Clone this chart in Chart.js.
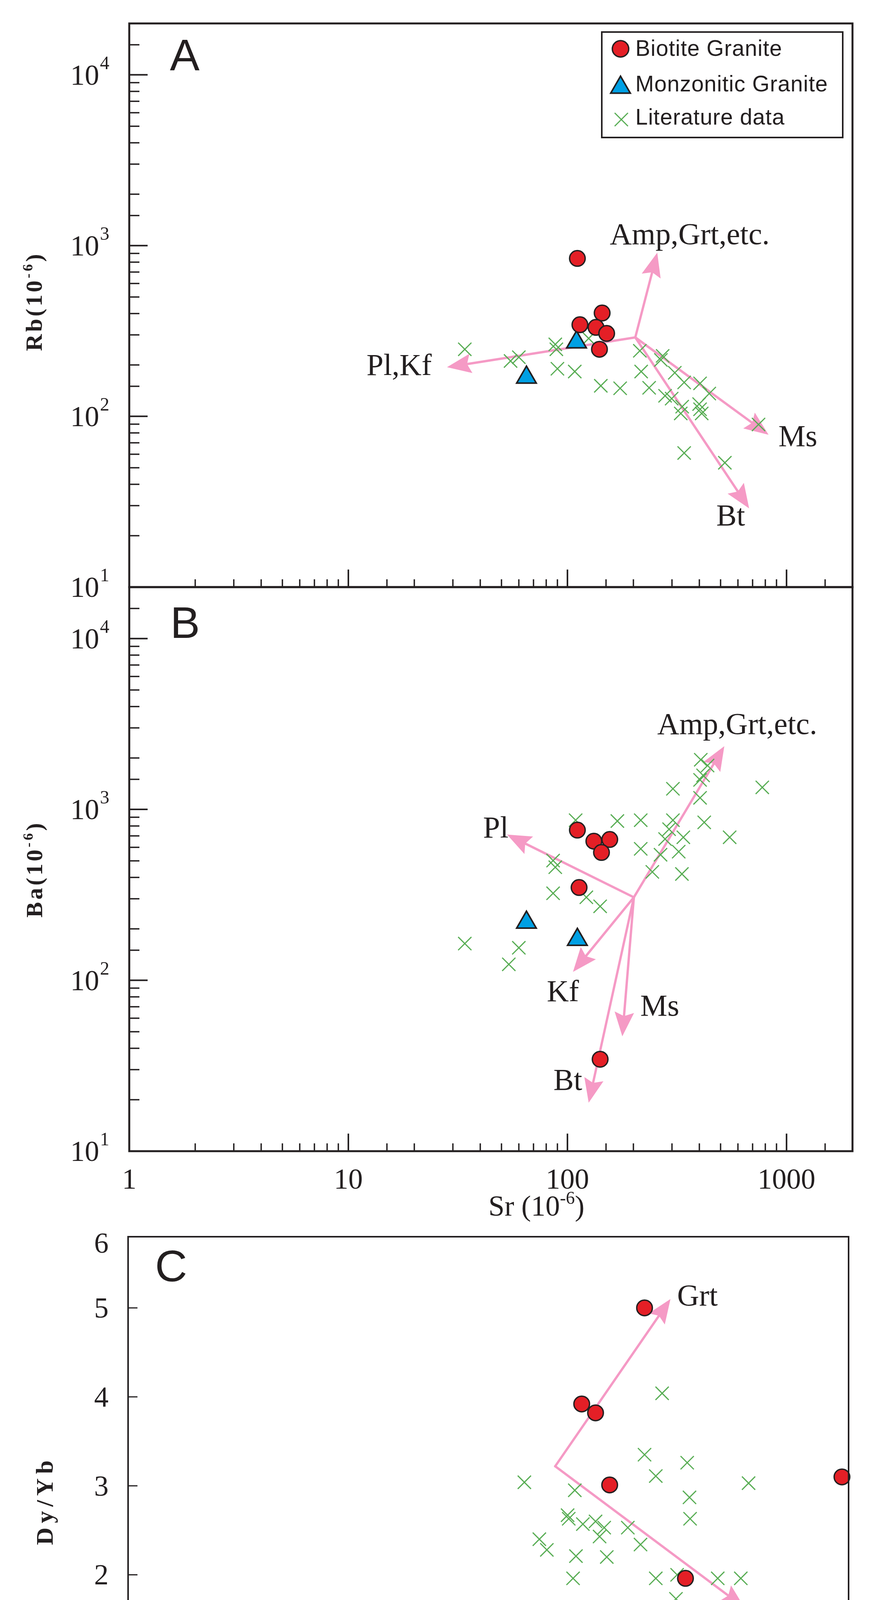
<!DOCTYPE html>
<html>
<head>
<meta charset="UTF-8">
<title>Sr-Rb / Sr-Ba / SiO2-Dy/Yb</title>
<style>
body{margin:0;background:#fff;width:2256px;height:4696px;position:relative;overflow:hidden}
canvas{position:absolute;left:0}
</style>
</head>
<body>
<canvas id="chartA" width="2256" height="1580" style="top:0px"></canvas>
<canvas id="chartB" width="2256" height="1760" style="top:1460px"></canvas>
<canvas id="chartC" width="2256" height="1616" style="top:3080px"></canvas>
<script src="https://cdn.jsdelivr.net/npm/chart.js@4.4.0/dist/chart.umd.min.js"></script>
<script>
// tick labels
const srTicks = [1, 10, 100, 1000];
const powTicks = [10, 100, 1000, 10000];
const powSup = ['1', '2', '3', '4'];
const siTicks = [55, 60, 65, 70, 75, 80];
const dyTicks = [0, 1, 2, 3, 4, 5, 6];

// A : Sr - Rb
const srBioA = [111, 144, 114, 135, 151, 140];
const rbBioA = [841, 403, 344, 332, 306, 247];
const srMonA = [110, 65];
const rbMonA = [272, 169];
const srLitA = [34, 55, 60, 88, 89, 90, 108, 125, 142, 174, 214, 217, 236, 272, 267, 309, 341, 279, 299, 334, 329, 403, 399, 403, 410, 444, 341, 523, 745];
const rbLitA = [247, 211, 222, 264, 247, 190, 183, 286, 151, 146, 242, 183, 147, 226, 214, 180, 158, 132, 127, 114, 104, 156, 118, 110, 104, 136, 61, 53.5, 89.6];
const vecFromA = [204, 290];
const vecToSrA = [28.2, 257, 828, 675];
const vecToRbA = [194, 910, 78, 28.9];

// B : Sr - Ba
const srBioB = [111, 132, 156, 143, 113, 141];
const baBioB = [757, 652, 667, 560, 349, 34.5];
const srMonB = [65, 111];
const baMonB = [218, 173];
const srLitB = [34, 60, 54, 86, 88, 86, 109, 122, 141, 169, 216, 216, 244, 266, 279, 291, 303, 303, 322, 338, 333, 403, 403, 416, 406, 436, 421, 550, 775];
const baLitB = [164, 155, 124, 502, 459, 323, 865, 306, 271, 855, 865, 588, 431, 543, 671, 766, 865, 1321, 566, 687, 419, 1169, 1489, 1582, 1953, 1807, 840, 687, 1346];
const vecFromB = [201, 306];
const vecToSrB = [53, 520, 106, 178, 125];
const vecToBaB = [713, 2345, 112, 47, 19.2];

// C : SiO2 - Dy/Yb
const siBioC = [72.92, 70.74, 71.22, 71.71, 74.34, 79.77];
const dyBioC = [5.0, 3.92, 3.82, 3.01, 1.96, 3.10];
const siMonC = [60.17, 65.34];
const dyMonC = [1.44, 1.56];
const siLitC = [68.75, 70.50, 70.25, 70.29, 70.78, 71.22, 71.52, 71.36, 72.34, 69.27, 69.53, 70.54, 71.61, 72.78, 70.44, 72.92, 73.31, 73.53, 74.40, 74.48, 74.50, 73.31, 74.05, 74.01, 75.46, 76.26, 76.53, 75.81, 68.30, 73.37, 75.42];
const dyLitC = [3.04, 2.95, 2.67, 2.63, 2.57, 2.60, 2.53, 2.43, 2.53, 2.40, 2.28, 2.21, 2.20, 2.34, 1.96, 3.35, 3.11, 4.04, 3.26, 2.87, 2.63, 1.96, 2.00, 1.73, 1.96, 1.96, 3.03, 1.61, 1.62, 1.26, 1.02];
const vecFromC = [69.82, 3.22];
const vecToSiC = [73.82, 76.39];
const vecToDyC = [5.10, 1.63];

const INK = '#231f20';
const PINK = '#f59ac5';
const RED = '#e41f26';
const BLUE = '#00a0e4';
const GREEN = '#58ad54';
const SERIF = '"Liberation Serif", "Times New Roman", serif';
const SANS = '"Liberation Sans", Arial, sans-serif';

const bioStyle = {pointStyle: 'circle', pointRadius: 20, pointHoverRadius: 20, pointBackgroundColor: RED, pointBorderColor: INK, pointBorderWidth: 3.5};
const monStyle = {pointStyle: 'triangle', pointRadius: 29, pointHoverRadius: 29, pointBackgroundColor: BLUE, pointBorderColor: INK, pointBorderWidth: 4};
const litStyle = {pointStyle: 'crossRot', pointRadius: 24, pointHoverRadius: 24, pointBackgroundColor: GREEN, pointBorderColor: GREEN, pointBorderWidth: 3};

function ds(label, xs, ys, style) {
  return Object.assign({label: label, data: xs.map((x, i) => ({x: x, y: ys[i]})), clip: false, showLine: false}, style);
}

// text made of runs (for superscripts / subscripts)
function runs(ctx, parts, x, y, align, weight, spacing) {
  ctx.letterSpacing = (spacing || 0) + 'px';
  const w = parts.map(p => { ctx.font = weight + ' ' + p.s + 'px ' + SERIF; return ctx.measureText(p.t).width; });
  const total = w.reduce((a, b) => a + b, 0);
  let cx = align === 'right' ? x - total : align === 'center' ? x - total / 2 : x;
  ctx.textAlign = 'left';
  ctx.textBaseline = 'alphabetic';
  parts.forEach((p, i) => {
    ctx.font = weight + ' ' + p.s + 'px ' + SERIF;
    ctx.fillText(p.t, cx, y + (p.dy || 0));
    cx += w[i];
  });
  ctx.letterSpacing = '0px';
}

function arrow(ctx, x0, y0, x1, y1) {
  const L = 62, W = 25, N = 10;
  const a = Math.atan2(y1 - y0, x1 - x0);
  const ux = Math.cos(a), uy = Math.sin(a);
  ctx.strokeStyle = PINK;
  ctx.fillStyle = PINK;
  ctx.lineWidth = 6;
  ctx.lineCap = 'round';
  ctx.beginPath();
  ctx.moveTo(x0, y0);
  ctx.lineTo(x1 - ux * (L - N), y1 - uy * (L - N));
  ctx.stroke();
  ctx.beginPath();
  ctx.moveTo(x1, y1);
  ctx.lineTo(x1 - ux * L - uy * W, y1 - uy * L + ux * W);
  ctx.lineTo(x1 - ux * (L - N), y1 - uy * (L - N));
  ctx.lineTo(x1 - ux * L + uy * W, y1 - uy * L - ux * W);
  ctx.closePath();
  ctx.fill();
}

function isPow10(v) {
  const l = Math.log10(v);
  return Math.abs(l - Math.round(l)) < 1e-6;
}

function logTicks(ctx, scale, a, horizontal) {
  scale.ticks.map(t => t.value).filter(v => v > scale.min && v < scale.max).forEach(v => {
    const major = isPow10(v);
    const p = scale.getPixelForValue(v);
    ctx.lineWidth = major ? 4 : 3.5;
    ctx.beginPath();
    if (horizontal) {
      const len = major ? 45 : 20;
      ctx.moveTo(p, a.bottom); ctx.lineTo(p, a.bottom - len);
    } else {
      const len = major ? 47 : 26;
      ctx.moveTo(a.left, p); ctx.lineTo(a.left + len, p);
    }
    ctx.stroke();
  });
}

function legend(ctx, a) {
  const bx = a.right - 642, by = a.top + 22, bw = 617, bh = 270;
  ctx.strokeStyle = INK;
  ctx.lineWidth = 4;
  ctx.strokeRect(bx, by, bw, bh);
  // circle
  ctx.beginPath();
  ctx.arc(bx + 48, by + 43, 21, 0, Math.PI * 2);
  ctx.fillStyle = RED; ctx.fill();
  ctx.lineWidth = 3.5; ctx.strokeStyle = INK; ctx.stroke();
  // triangle
  const tx = bx + 48, ty = by + 142, r = 29;
  ctx.beginPath();
  ctx.moveTo(tx, ty - r);
  ctx.lineTo(tx + r * Math.sin(Math.PI * 2 / 3), ty - r * Math.cos(Math.PI * 2 / 3));
  ctx.lineTo(tx + r * Math.sin(Math.PI * 4 / 3), ty - r * Math.cos(Math.PI * 4 / 3));
  ctx.closePath();
  ctx.fillStyle = BLUE; ctx.fill();
  ctx.lineWidth = 4; ctx.stroke();
  // cross
  const cx = bx + 50, cy = by + 224, c = 17;
  ctx.strokeStyle = GREEN; ctx.lineWidth = 3;
  ctx.beginPath();
  ctx.moveTo(cx - c, cy - c); ctx.lineTo(cx + c, cy + c);
  ctx.moveTo(cx + c, cy - c); ctx.lineTo(cx - c, cy + c);
  ctx.stroke();
  ctx.fillStyle = INK;
  ctx.font = '57px ' + SANS;
  ctx.textAlign = 'left';
  ctx.textBaseline = 'middle';
  ctx.letterSpacing = '1px';
  ctx.fillText('Biotite Granite', bx + 86, by + 45);
  ctx.fillText('Monzonitic Granite', bx + 86, by + 136);
  ctx.fillText('Literature data', bx + 86, by + 221);
  ctx.letterSpacing = '0px';
}

function panelPlugin(p) {
  return {
    id: 'panel' + p.letter,
    beforeDatasetsDraw(chart) {
      const ctx = chart.ctx, xs = chart.scales.x, ys = chart.scales.y;
      const x0 = xs.getPixelForValue(p.from[0]), y0 = ys.getPixelForValue(p.from[1]);
      ctx.save();
      p.toX.forEach((v, i) => arrow(ctx, x0, y0, xs.getPixelForValue(v), ys.getPixelForValue(p.toY[i])));
      ctx.restore();
    },
    afterDraw(chart) {
      const ctx = chart.ctx, a = chart.chartArea, xs = chart.scales.x, ys = chart.scales.y;
      ctx.save();
      ctx.strokeStyle = INK;
      ctx.fillStyle = INK;
      ctx.lineCap = 'butt';
      // frame
      ctx.lineWidth = p.frameW;
      ctx.strokeRect(a.left, a.top, a.right - a.left, a.bottom - a.top);
      // ticks
      if (p.log) {
        logTicks(ctx, xs, a, true);
        logTicks(ctx, ys, a, false);
      } else {
        ctx.lineWidth = 3;
        dyTicks.filter(v => v > ys.min && v < ys.max).forEach(v => {
          const py = ys.getPixelForValue(v);
          ctx.beginPath(); ctx.moveTo(a.left, py); ctx.lineTo(a.left + 24, py); ctx.stroke();
        });
        siTicks.filter(v => v > xs.min && v < xs.max).forEach(v => {
          const px = xs.getPixelForValue(v);
          ctx.beginPath(); ctx.moveTo(px, a.bottom); ctx.lineTo(px, a.bottom - 24); ctx.stroke();
        });
      }
      // y tick labels
      if (p.log) {
        powTicks.forEach((v, i) => {
          const py = ys.getPixelForValue(v);
          runs(ctx, [{t: '10', s: 74}], a.left - 77, py + 25, 'right', 'normal');
          runs(ctx, [{t: powSup[i], s: 48}], a.left - 75, py - 15, 'left', 'normal');
        });
      } else {
        dyTicks.forEach(v => {
          const py = Math.max(ys.getPixelForValue(v), a.top + 16);
          runs(ctx, [{t: String(v), s: 74}], a.left - 50, py + 25, 'right', 'normal');
        });
      }
      // x tick labels
      if (p.xLabels) {
        p.xLabels.forEach(v => {
          runs(ctx, [{t: String(v), s: 74}], xs.getPixelForValue(v), a.bottom + p.xLabelDy, 'center', 'normal');
        });
      }
      // x title
      if (p.xTitle) {
        runs(ctx, p.xTitle, a.left + p.xTitlePos * (a.right - a.left), a.bottom + p.xTitleDy, 'center', 'normal');
      }
      // y title (rotated)
      ctx.save();
      ctx.translate(p.yTitleX, (a.top + a.bottom) / 2 + p.yTitleDy);
      ctx.rotate(-Math.PI / 2);
      runs(ctx, p.yTitle, 0, 20, 'center', 'bold', p.yTitleSp);
      ctx.restore();
      // panel letter
      ctx.font = '114px ' + SANS;
      ctx.textAlign = 'left';
      ctx.textBaseline = 'alphabetic';
      ctx.fillText(p.letter, a.left + p.letterDx, a.top + p.letterDy);
      // vector labels
      p.notes.forEach(n => {
        runs(ctx, [{t: n.t, s: 78}], xs.getPixelForValue(n.x), ys.getPixelForValue(n.y) + 26, n.align || 'left', 'normal');
      });
      if (p.legend) legend(ctx, a);
      ctx.restore();
    }
  };
}

function makeChart(id, datasets, scales, padding, p) {
  return new Chart(document.getElementById(id), {
    type: 'scatter',
    data: {datasets: datasets},
    options: {
      responsive: false,
      animation: false,
      devicePixelRatio: 1,
      events: [],
      layout: {padding: padding},
      scales: scales,
      plugins: {legend: {display: false}, tooltip: {enabled: false}}
    },
    plugins: [panelPlugin(p)]
  });
}

const logScales = {
  x: {type: 'logarithmic', min: 1, max: 2000, display: false},
  y: {type: 'logarithmic', min: 10, max: 20000, display: false}
};

makeChart('chartA', [
  ds('Biotite Granite', srBioA, rbBioA, bioStyle),
  ds('Monzonitic Granite', srMonA, rbMonA, monStyle),
  ds('Literature data', srLitA, rbLitA, litStyle)
], logScales, {left: 331, right: 73, top: 60, bottom: 77}, {
  letter: 'A', log: true, frameW: 5, legend: true,
  from: vecFromA, toX: vecToSrA, toY: vecToRbA,
  yTitle: [{t: 'Rb(10', s: 60}, {t: '-6', s: 36, dy: -24}, {t: ')', s: 60}], yTitleX: 87, yTitleDy: -10, yTitleSp: 6,
  letterDx: 104, letterDy: 120,
  notes: [
    {t: 'Amp,Grt,etc.', x: 156, y: 1169},
    {t: 'Pl,Kf', x: 24, y: 200, align: 'right'},
    {t: 'Ms', x: 918, y: 76.6},
    {t: 'Bt', x: 478, y: 26.4}
  ]
});

makeChart('chartB', [
  ds('Biotite Granite', srBioB, baBioB, bioStyle),
  ds('Monzonitic Granite', srMonB, baMonB, monStyle),
  ds('Literature data', srLitB, baLitB, litStyle)
], {
  x: {type: 'logarithmic', min: 1, max: 2000, display: false},
  y: {type: 'logarithmic', min: 10, max: 20000, display: false}
}, {left: 331, right: 73, top: 43, bottom: 273}, {
  letter: 'B', log: true, frameW: 5,
  from: vecFromB, toX: vecToSrB, toY: vecToBaB,
  xLabels: srTicks, xLabelDy: 96,
  xTitle: [{t: 'Sr (10', s: 74}, {t: '-6', s: 46, dy: -30}, {t: ')', s: 74}], xTitlePos: 0.563, xTitleDy: 165,
  yTitle: [{t: 'Ba(10', s: 60}, {t: '-6', s: 36, dy: -24}, {t: ')', s: 60}], yTitleX: 88, yTitleDy: 0, yTitleSp: 6,
  letterDx: 105, letterDy: 130,
  notes: [
    {t: 'Amp,Grt,etc.', x: 257, y: 3170},
    {t: 'Pl', x: 41.2, y: 785},
    {t: 'Kf', x: 80.5, y: 86.7},
    {t: 'Ms', x: 215, y: 71.4},
    {t: 'Bt', x: 86.3, y: 26.2}
  ]
});

makeChart('chartC', [
  ds('Biotite Granite', siBioC, dyBioC, bioStyle),
  ds('Monzonitic Granite', siMonC, dyMonC, monStyle),
  ds('Literature data', siLitC, dyLitC, litStyle)
], {
  x: {type: 'linear', min: 55, max: 80, display: false},
  y: {type: 'linear', min: 0, max: 5.8, display: false}
}, {left: 328, right: 83, top: 86, bottom: 209}, {
  letter: 'C', log: false, frameW: 4,
  from: vecFromC, toX: vecToSiC, toY: vecToDyC,
  xLabels: siTicks, xLabelDy: 84,
  xTitle: [{t: 'SiO', s: 74}, {t: '2', s: 44, dy: 2}, {t: '(%)', s: 74}], xTitlePos: 0.54, xTitleDy: 148,
  yTitle: [{t: 'Dy/Yb', s: 62}], yTitleX: 115, yTitleDy: 15, yTitleSp: 11,
  letterDx: 69, letterDy: 114,
  notes: [
    {t: 'Grt', x: 74.05, y: 5.14},
    {t: 'Amp', x: 76.68, y: 1.42}
  ]
});
</script>
</body>
</html>
